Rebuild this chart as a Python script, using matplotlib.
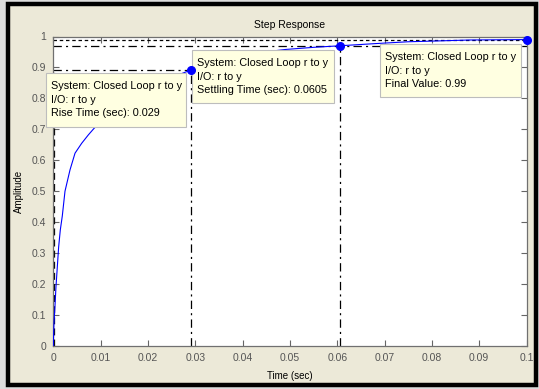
import numpy as np
import matplotlib
matplotlib.use("Agg")
import matplotlib.pyplot as plt
from matplotlib.patches import Rectangle

# step response
t = [0, 0.00014, 0.00035, 0.00056, 0.00085, 0.00113, 0.00148, 0.0019, 0.00247,
     0.00353, 0.00459, 0.006, 0.0074, 0.0086, 0.012, 0.016, 0.02, 0.025, 0.029,
     0.035, 0.042, 0.049, 0.055, 0.0605, 0.068, 0.075, 0.082, 0.088, 0.095, 0.1]
amp = [0, 0.073, 0.127, 0.19, 0.256, 0.32, 0.375, 0.42, 0.50,
       0.569, 0.623, 0.655, 0.682, 0.703, 0.752, 0.796, 0.833, 0.868, 0.891,
       0.92, 0.945, 0.958, 0.965, 0.970, 0.977, 0.983, 0.986, 0.9887, 0.9895, 0.99]

t_rise_start = 0.0002
t_rise = 0.029
y_rise = 0.891
t_settle = 0.0605
y_settle = 0.970
t_final = 0.1
y_final = 0.99

xticks = [0, 0.01, 0.02, 0.03, 0.04, 0.05, 0.06, 0.07, 0.08, 0.09, 0.1]
xticklabels = ["0", "0.01", "0.02", "0.03", "0.04", "0.05", "0.06", "0.07", "0.08", "0.09", "0.1"]
yticks = [0, 0.1, 0.2, 0.3, 0.4, 0.5, 0.6, 0.7, 0.8, 0.9, 1]
yticklabels = ["0", "0.1", "0.2", "0.3", "0.4", "0.5", "0.6", "0.7", "0.8", "0.9", "1"]

notes = [
    ["System: Closed Loop r to y", "I/O: r to y", "Rise Time (sec): 0.029"],
    ["System: Closed Loop r to y", "I/O: r to y", "Settling Time (sec): 0.0605"],
    ["System: Closed Loop r to y", "I/O: r to y", "Final Value: 0.99"],
]
# data tip boxes in pixels: left, top, right, bottom
tips = [(46, 73, 186, 126.5), (192, 50, 334, 103), (380, 44, 521, 96.5)]

plt.rcParams['font.family'] = ['Liberation Sans', 'DejaVu Sans']
plt.rcParams['lines.scale_dashes'] = False

W, H = 539, 389
AX_L, AX_R, AX_T, AX_B = 53.3, 526.5, 36.5, 346
fig = plt.figure(figsize=(W / 100, H / 100), dpi=100)
fig.patch.set_facecolor('#dcdcdc')

# window frame
fig.patches.append(Rectangle((8 / W, 1 - 384.5 / H), (536 - 8) / W, (384.5 - 3.5) / H,
                             transform=fig.transFigure, facecolor='#ECE9D8',
                             edgecolor='black', linewidth=3.2, zorder=-5))

ax = fig.add_axes([AX_L / W, 1 - AX_B / H, (AX_R - AX_L) / W, (AX_B - AX_T) / H])
ax.set_zorder(2)
ax.set_facecolor('white')

def fx(px):
    return (px - AX_L) / (AX_R - AX_L)

def fy(py):
    return (AX_B - py) / (AX_B - AX_T)

dashdot = (0, (6, 3, 1.5, 3))
dotted = (0, (2.5, 2))
lk = dict(color='black', linewidth=0.9, zorder=2)

# characteristic lines
ax.axhline(y_final, linestyle=dotted, **lk)
ax.axhline(y_settle, linestyle=dashdot, **lk)
ax.plot([0, t_rise], [y_rise, y_rise], linestyle=dashdot, **lk)
ax.plot([t_rise_start, t_rise_start], [0, y_rise], linestyle=(0, (5, 3)), **lk)
ax.plot([t_rise, t_rise], [0, y_rise], linestyle=dashdot, **lk)
ax.plot([t_settle, t_settle], [0, y_settle], linestyle=dashdot, **lk)

ax.plot(t, amp, color='blue', linewidth=0.8, zorder=3)
ax.plot([t_rise, t_settle, t_final], [y_rise, y_settle, y_final], 'o',
        color='blue', markersize=5.5, zorder=6, clip_on=False)

for (l, tp, r, b), lines in zip(tips, notes):
    ax.add_patch(Rectangle((fx(l), fy(b)), fx(r) - fx(l), fy(tp) - fy(b),
                           transform=ax.transAxes, facecolor='#FFFFE1',
                           edgecolor='#BDBDBD', linewidth=0.8, zorder=5, clip_on=False))
    for i, s in enumerate(lines):
        ax.text(fx(l + 5), fy(tp + 13 + 13.7 * i), s, transform=ax.transAxes,
                ha='left', va='center', fontsize=7.8, zorder=5.5)

ax.set_xlim(0, 0.1)
ax.set_ylim(0, 1)
ax.set_xticks(xticks)
ax.set_xticklabels(xticklabels)
ax.set_yticks(yticks)
ax.set_yticklabels(yticklabels)
ax.tick_params(direction='in', length=4, width=0.8, color='#666666', labelcolor='#555555',
               labelsize=7.5, top=True, right=True, pad=5)
for sp in ax.spines.values():
    sp.set_color('#707070')
    sp.set_linewidth(0.9)

ax.set_title('Step Response', fontsize=7.5, pad=6)
ax.set_xlabel('Time (sec)', fontsize=7, labelpad=6)
ax.set_ylabel('Amplitude', fontsize=7, labelpad=6)

fig.savefig('out.png', dpi=100, facecolor=fig.get_facecolor())
